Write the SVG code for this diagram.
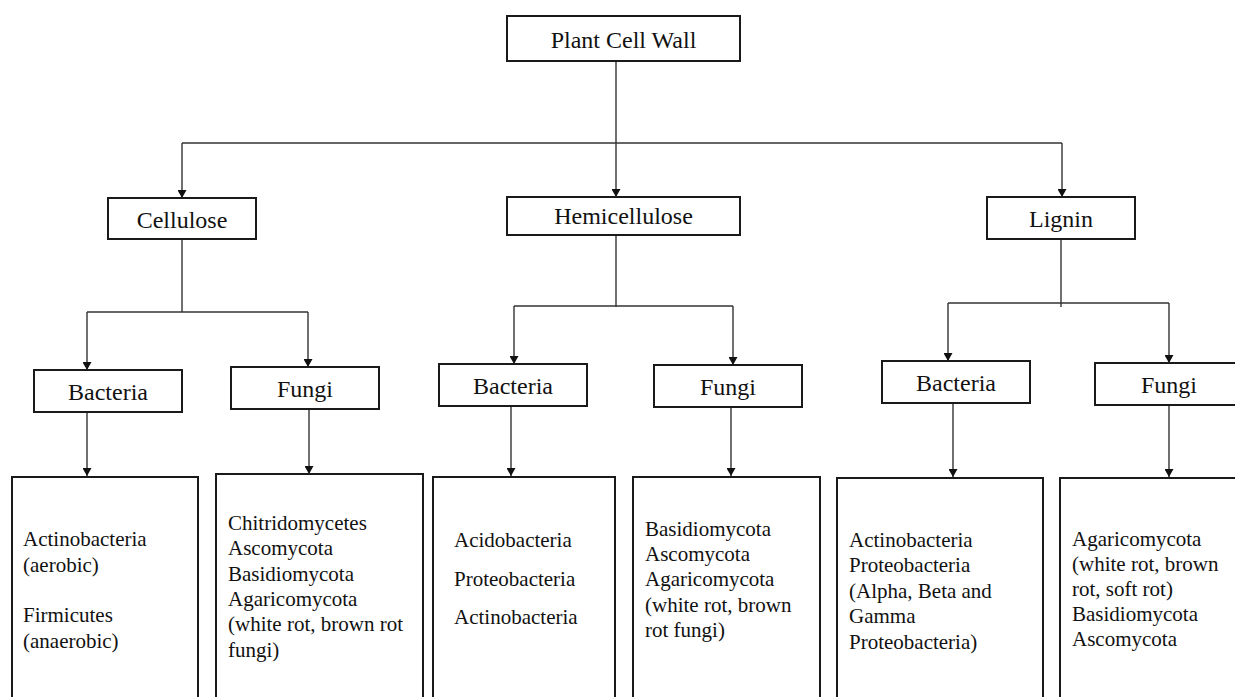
<svg xmlns="http://www.w3.org/2000/svg" width="1235" height="697" viewBox="0 0 1235 697">
<style>
.box{fill:#fff;stroke:#1a1a1a;stroke-width:2}
.lbl{font-family:"Liberation Serif","Times New Roman",serif;font-size:24px;fill:#111;text-anchor:middle}
.txt{font-family:"Liberation Serif","Times New Roman",serif;font-size:21px;fill:#111}
.con{fill:none;stroke:#333;stroke-width:1.4}
</style>
<defs>
<marker id="ah" markerUnits="userSpaceOnUse" markerWidth="9" markerHeight="9" refX="8" refY="4.5" orient="auto">
<path d="M0,0 L8,4.5 L0,9 z" fill="#111"/>
</marker>
</defs>
<rect width="1235" height="697" fill="#fff"/>
<g id="connectors">
<line class="con" x1="616" y1="61" x2="616" y2="197" marker-end="url(#ah)"/>
<line class="con" x1="182" y1="143" x2="1062" y2="143"/>
<line class="con" x1="182" y1="143" x2="182" y2="198" marker-end="url(#ah)"/>
<line class="con" x1="1062" y1="143" x2="1062" y2="197" marker-end="url(#ah)"/>
<line class="con" x1="182" y1="239" x2="182" y2="312"/>
<line class="con" x1="87" y1="312" x2="308" y2="312"/>
<line class="con" x1="87" y1="312" x2="87" y2="370" marker-end="url(#ah)"/>
<line class="con" x1="308" y1="312" x2="308" y2="367" marker-end="url(#ah)"/>
<line class="con" x1="616" y1="235" x2="616" y2="307"/>
<line class="con" x1="514" y1="306" x2="733" y2="306"/>
<line class="con" x1="514" y1="306" x2="514" y2="364" marker-end="url(#ah)"/>
<line class="con" x1="733" y1="306" x2="733" y2="365" marker-end="url(#ah)"/>
<line class="con" x1="1061" y1="239" x2="1061" y2="307"/>
<line class="con" x1="948" y1="303" x2="1169" y2="303"/>
<line class="con" x1="948" y1="303" x2="948" y2="361" marker-end="url(#ah)"/>
<line class="con" x1="1169" y1="303" x2="1169" y2="363" marker-end="url(#ah)"/>
<line class="con" x1="87" y1="412" x2="87" y2="476" marker-end="url(#ah)"/>
<line class="con" x1="309" y1="409" x2="309" y2="474" marker-end="url(#ah)"/>
<line class="con" x1="511" y1="406" x2="511" y2="476" marker-end="url(#ah)"/>
<line class="con" x1="731" y1="407" x2="731" y2="476" marker-end="url(#ah)"/>
<line class="con" x1="953" y1="403" x2="953" y2="477" marker-end="url(#ah)"/>
<line class="con" x1="1169" y1="405" x2="1169" y2="477" marker-end="url(#ah)"/>
</g>
<g id="plant-cell-wall"><rect class="box" x="507" y="16" width="233" height="45"/><text class="lbl" x="623.5" y="48">Plant Cell Wall</text></g>
<g id="cellulose"><rect class="box" x="108" y="198" width="148" height="41"/><text class="lbl" x="182" y="227.5">Cellulose</text></g>
<g id="hemicellulose"><rect class="box" x="507" y="197" width="233" height="38"/><text class="lbl" x="623.5" y="224">Hemicellulose</text></g>
<g id="lignin"><rect class="box" x="987" y="197" width="148" height="42"/><text class="lbl" x="1061" y="227">Lignin</text></g>
<g id="cell-bacteria"><rect class="box" x="34" y="370" width="148" height="42"/><text class="lbl" x="108" y="400">Bacteria</text></g>
<g id="cell-fungi"><rect class="box" x="231" y="367" width="148" height="42"/><text class="lbl" x="305" y="397">Fungi</text></g>
<g id="hemi-bacteria"><rect class="box" x="439" y="364" width="148" height="42"/><text class="lbl" x="513" y="394">Bacteria</text></g>
<g id="hemi-fungi"><rect class="box" x="654" y="365" width="148" height="42"/><text class="lbl" x="728" y="395">Fungi</text></g>
<g id="lig-bacteria"><rect class="box" x="882" y="361" width="148" height="42"/><text class="lbl" x="956" y="391">Bacteria</text></g>
<g id="lig-fungi"><rect class="box" x="1095" y="363" width="148" height="42"/><text class="lbl" x="1169" y="393">Fungi</text></g>
<g id="cell-bacteria-list"><rect class="box" x="12" y="477" width="186" height="240"/>
<text class="txt" x="23" y="546">Actinobacteria</text>
<text class="txt" x="23" y="571.5">(aerobic)</text>
<text class="txt" x="23" y="622">Firmicutes</text>
<text class="txt" x="23" y="647.5">(anaerobic)</text></g>
<g id="cell-fungi-list"><rect class="box" x="216" y="474" width="207" height="240"/>
<text class="txt" x="228" y="530">Chitridomycetes</text>
<text class="txt" x="228" y="555.3">Ascomycota</text>
<text class="txt" x="228" y="580.6">Basidiomycota</text>
<text class="txt" x="228" y="605.9">Agaricomycota</text>
<text class="txt" x="228" y="631.2">(white rot, brown rot</text>
<text class="txt" x="228" y="656.5">fungi)</text></g>
<g id="hemi-bacteria-list"><rect class="box" x="433" y="477" width="182" height="240"/>
<text class="txt" x="454" y="547">Acidobacteria</text>
<text class="txt" x="454" y="585.5">Proteobacteria</text>
<text class="txt" x="454" y="624">Actinobacteria</text></g>
<g id="hemi-fungi-list"><rect class="box" x="633" y="477" width="187" height="240"/>
<text class="txt" x="645" y="536">Basidiomycota</text>
<text class="txt" x="645" y="561">Ascomycota</text>
<text class="txt" x="645" y="586">Agaricomycota</text>
<text class="txt" x="645" y="611.5">(white rot, brown</text>
<text class="txt" x="645" y="636.5">rot fungi)</text></g>
<g id="lig-bacteria-list"><rect class="box" x="837" y="478" width="206" height="240"/>
<text class="txt" x="849" y="546.5">Actinobacteria</text>
<text class="txt" x="849" y="572">Proteobacteria</text>
<text class="txt" x="849" y="597.5">(Alpha, Beta and</text>
<text class="txt" x="849" y="623">Gamma</text>
<text class="txt" x="849" y="648.5">Proteobacteria)</text></g>
<g id="lig-fungi-list"><rect class="box" x="1060" y="478" width="190" height="240"/>
<text class="txt" x="1072" y="546">Agaricomycota</text>
<text class="txt" x="1072" y="571">(white rot, brown</text>
<text class="txt" x="1072" y="596">rot, soft rot)</text>
<text class="txt" x="1072" y="621">Basidiomycota</text>
<text class="txt" x="1072" y="646">Ascomycota</text></g>
</svg>
